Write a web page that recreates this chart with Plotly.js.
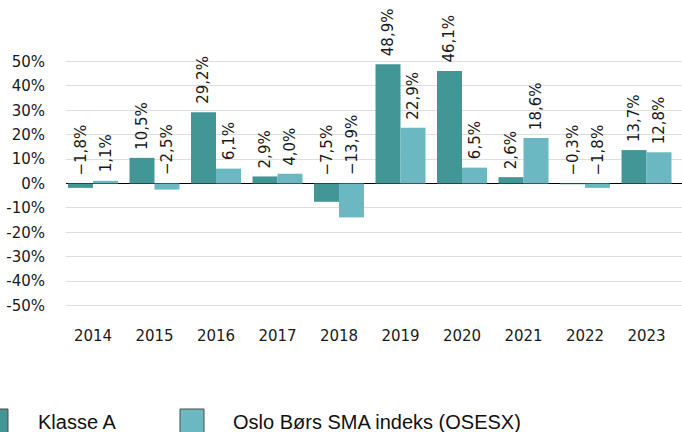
<!DOCTYPE html>
<html>
<head>
<meta charset="utf-8">
<script src="https://cdn.plot.ly/plotly-3.0.1.min.js"></script>
<style>html,body{margin:0;padding:0;background:#fff;}#chart{width:682px;height:432px;}</style>
</head>
<body>
<div id="chart"></div>
<script>
const years = ['2014','2015','2016','2017','2018','2019','2020','2021','2022','2023'];
const klasseA = [-1.8, 10.5, 29.2, 2.9, -7.5, 48.9, 46.1, 2.6, -0.3, 13.7];
const osesx = [1.1, -2.5, 6.1, 4.0, -13.9, 22.9, 6.5, 18.6, -1.8, 12.8];
const seriesNames = ['Klasse A', 'Oslo Børs SMA indeks (OSESX)'];
const seriesColors = ['#429696', '#6cb8c2'];
const yTickVals = [-50, -40, -30, -20, -10, 0, 10, 20, 30, 40, 50];
const yTickText = ['-50%', '-40%', '-30%', '-20%', '-10%', '0%', '10%', '20%', '30%', '40%', '50%'];

function fmt(v) {
  return (v < 0 ? '\u2212' : '') + Math.abs(v).toFixed(1).replace('.', ',') + '%';
}

const tickFont = {family: 'DejaVu Sans', size: 15, color: '#1a1a1a'};

const traces = [klasseA, osesx].map((vals, i) => ({
  type: 'bar',
  name: seriesNames[i],
  x: years,
  y: vals,
  marker: {color: seriesColors[i], line: {width: 0}},
  hoverinfo: 'skip'
}));

const annotations = [];
[klasseA, osesx].forEach((vals, i) => {
  vals.forEach((v, j) => {
    annotations.push({
      x: j, y: Math.max(v, 0), xref: 'x', yref: 'y',
      xshift: i === 0 ? -12.5 : 12.5, yshift: 6,
      text: fmt(v), textangle: -90, showarrow: false,
      xanchor: 'center', yanchor: 'bottom',
      font: {family: 'DejaVu Sans', size: 15, color: '#1a1a1a'}
    });
  });
});

// legend drawn manually (large swatches at bottom)
const legendX = [-82, 114];
const legendTextX = [36, 231];
const shapes = [];
seriesNames.forEach((n, i) => {
  shapes.push({
    type: 'rect', xref: 'paper', yref: 'paper',
    xsizemode: 'pixel', ysizemode: 'pixel', xanchor: 0, yanchor: 0,
    x0: legendX[i], x1: legendX[i] + 24, y0: -84, y1: -110,
    fillcolor: seriesColors[i], line: {color: '#4a4a4a', width: 1}
  });
  annotations.push({
    xref: 'paper', yref: 'paper', x: (legendTextX[i] - 66) / 616, y: (325 - 422) / 283,
    xanchor: 'left', yanchor: 'middle', showarrow: false, text: n,
    font: {family: 'Liberation Sans', size: 20, color: '#111'}
  });
});

const layout = {
  width: 682, height: 432,
  margin: {l: 66, r: 0, t: 42, b: 107},
  paper_bgcolor: '#fff', plot_bgcolor: '#fff',
  barmode: 'group', bargap: 0.187, bargroupgap: 0,
  showlegend: false,
  xaxis: {
    type: 'category', range: [-0.439, 9.577],
    showgrid: false, zeroline: false, showline: false, ticks: '',
    tickfont: tickFont
  },
  yaxis: {
    range: [-58, 58], tickvals: yTickVals, ticktext: yTickText,
    showgrid: true, gridcolor: '#dedede', gridwidth: 1,
    zeroline: true, zerolinecolor: '#000', zerolinewidth: 1,
    showline: false, ticks: '', ticklabelstandoff: 20,
    tickfont: tickFont
  },
  annotations: annotations,
  shapes: shapes
};

Plotly.newPlot('chart', traces, layout, {displayModeBar: false, staticPlot: true});
</script>
</body>
</html>
